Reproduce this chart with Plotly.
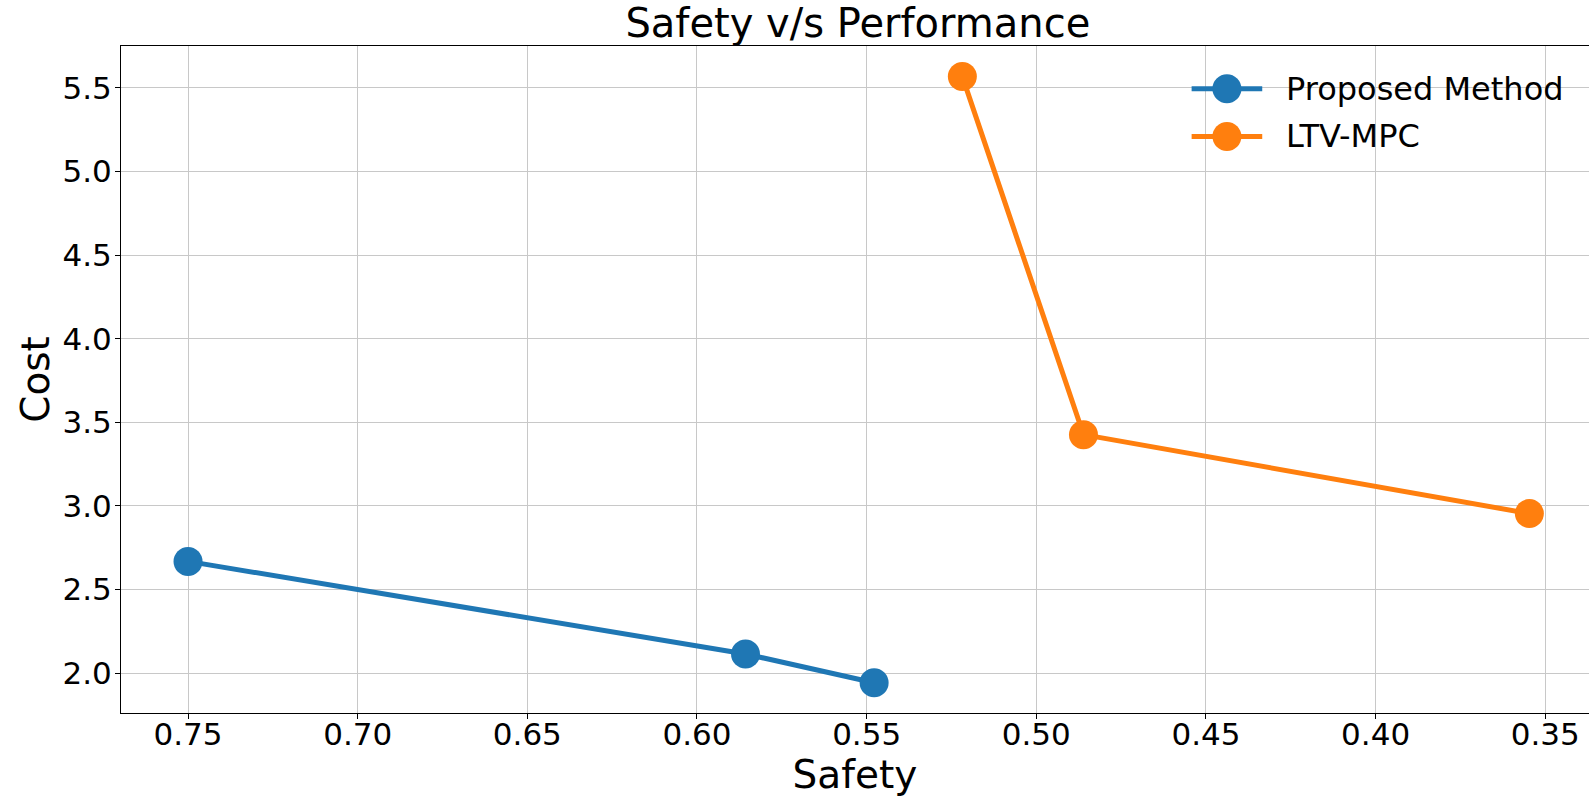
import plotly.graph_objects as go

# Data
proposed_safety = [0.75, 0.5857, 0.5478]
proposed_cost = [2.668, 2.114, 1.942]
ltv_safety = [0.5218, 0.4861, 0.3547]
ltv_cost = [5.568, 3.426, 2.954]
series_names = ["Proposed Method", "LTV-MPC"]
colors = ["#1f77b4", "#ff7f0e"]

W, H = 1589, 797
L, R, T, B = 121.3, 1589.0, 46.3, 713.0

FONT = "DejaVu Sans"

fig = go.Figure()
fig.add_trace(go.Scatter(x=proposed_safety, y=proposed_cost, mode="lines+markers",
                         name=series_names[0], showlegend=False,
                         line=dict(color=colors[0], width=5),
                         marker=dict(color=colors[0], size=29)))
fig.add_trace(go.Scatter(x=ltv_safety, y=ltv_cost, mode="lines+markers",
                         name=series_names[1], showlegend=False,
                         line=dict(color=colors[1], width=5),
                         marker=dict(color=colors[1], size=29)))

def px2paper(x, y):
    return (x - L) / (R - L), (B - y) / (B - T)

# manual legend (matplotlib style)
rows_y = [89.0, 136.7]
shapes = []
annotations = []
for name, col, ry in zip(series_names, colors, rows_y):
    x0, yy = px2paper(1191.7, ry)
    x1, _ = px2paper(1262.3, ry)
    xc, _ = px2paper(1227.0, ry)
    shapes.append(dict(type="line", xref="paper", yref="paper", x0=x0, x1=x1, y0=yy, y1=yy,
                       line=dict(color=col, width=5), layer="above"))
    shapes.append(dict(type="circle", xref="paper", yref="paper", xsizemode="pixel", ysizemode="pixel",
                       xanchor=xc, yanchor=yy, x0=-14.5, x1=14.5, y0=-14.5, y1=14.5,
                       fillcolor=col, line=dict(color=col, width=0), layer="above"))
    tx, _ = px2paper(1284.5, ry)
    annotations.append(dict(text=name, xref="paper", yref="paper", x=tx, y=yy,
                            xanchor="left", yanchor="middle", showarrow=False,
                            font=dict(family=FONT, size=32, color="black")))

fig.update_layout(
    width=W, height=H,
    margin=dict(l=L, r=W - R, t=T, b=H - B, autoexpand=False),
    paper_bgcolor="white", plot_bgcolor="white",
    font=dict(family=FONT, color="black"),
    title=dict(text="Safety v/s Performance", x=(858 - L) / (R - L), xref="paper", xanchor="center",
               y=1 - 23 / H, yref="container", yanchor="middle", automargin=False,
               font=dict(family=FONT, size=40, color="black")),
    shapes=shapes,
    annotations=annotations,
    xaxis=dict(range=[0.76975, 0.35 - (R - 1545.3) / 3392.0], tickmode="array",
               tickvals=[0.75, 0.70, 0.65, 0.60, 0.55, 0.50, 0.45, 0.40, 0.35],
               tickformat=".2f", ticks="outside", ticklen=5, tickwidth=1, tickcolor="black",
               showline=True, linecolor="black", linewidth=1, mirror=True, automargin=False,
               showgrid=True, gridcolor="#c8c8c8", gridwidth=1, zeroline=False,
               ticklabelstandoff=-11,
               tickfont=dict(family=FONT, size=31, color="black"),
               title=dict(text="Safety", font=dict(family=FONT, size=39, color="black"), standoff=10)),
    yaxis=dict(range=[1.761, 5.751], tickmode="array",
               tickvals=[2.0, 2.5, 3.0, 3.5, 4.0, 4.5, 5.0, 5.5],
               tickformat=".1f", ticks="outside", ticklen=5, tickwidth=1, tickcolor="black",
               showline=True, linecolor="black", linewidth=1, mirror=False, automargin=False,
               showgrid=True, gridcolor="#c8c8c8", gridwidth=1, zeroline=False,
               ticklabelstandoff=-3,
               tickfont=dict(family=FONT, size=31, color="black"),
               title=dict(text="Cost", font=dict(family=FONT, size=39, color="black"), standoff=0)),
)

fig.write_html("out.html", config={"displayModeBar": False},
               post_script="document.body.style.margin='0';")
